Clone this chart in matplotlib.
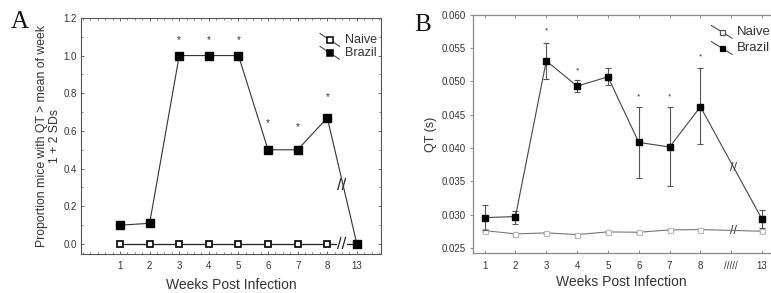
import numpy as np
import matplotlib
matplotlib.use("Agg")
import matplotlib.pyplot as plt
from matplotlib.ticker import AutoMinorLocator, MultipleLocator

plt.rcParams['font.family'] = ['Liberation Sans', 'DejaVu Sans']

# Panel A: proportion of mice with QT > mean of week 1 + 2 SDs
weeks = ['1', '2', '3', '4', '5', '6', '7', '8', '13']
prop_naive = [0, 0, 0, 0, 0, 0, 0, 0, 0]
prop_brazil = [0.10, 0.11, 1.0, 1.0, 1.0, 0.50, 0.50, 0.67, 0.0]
stars_a = {3: 1.08, 4: 1.08, 5: 1.08, 6: 0.64, 7: 0.62, 8: 0.78}

# Panel B: QT interval (s), mean with error bars
weeks_b = ['1', '2', '3', '4', '5', '6', '7', '8', '/////', '13']
qt_naive = [0.0276, 0.0271, 0.02725, 0.0270, 0.0274, 0.02735, 0.0277, 0.02775, 0.0275]
qt_naive_err = [0.0002, 0.0001, 0.0001, 0.0001, 0.0001, 0.0001, 0.0002, 0.0002, 0.0002]
qt_brazil = [0.02955, 0.0297, 0.0531, 0.0493, 0.0507, 0.04085, 0.04015, 0.0462, 0.0293]
qt_brazil_lo = [0.0277, 0.0286, 0.0503, 0.0484, 0.0494, 0.0355, 0.0343, 0.0406, 0.0280]
qt_brazil_hi = [0.03145, 0.0306, 0.0558, 0.0502, 0.0520, 0.0462, 0.0462, 0.0520, 0.0307]
stars_b = {3: 0.0576, 4: 0.0516, 6: 0.0477, 7: 0.0477, 8: 0.0537}

txt = '#333333'

fig = plt.figure(figsize=(7.71, 2.93), dpi=100)

# ---------------- Panel A ----------------
ax = fig.add_axes([0.105, 0.133, 0.389, 0.806])
xa = np.arange(1, len(weeks) + 1)
ax.plot(xa, prop_naive, '-s', color='#222222', lw=0.9, ms=4.4, mfc='white',
        mec='#111111', mew=1.3, zorder=3)
ax.plot(xa, prop_brazil, '-s', color='#333333', lw=0.8, ms=5.2, mfc='black',
        mec='black', zorder=4)
for w, y in stars_a.items():
    ax.text(weeks.index(str(w)) + 1, y, '*', ha='center', va='center',
            fontsize=7, color=txt)
# axis break marks
ax.text(8.5, 0.31, '//', ha='center', va='center', fontsize=12,
        color='#222222')
ax.text(8.5, 0.0, '//', ha='center', va='center', fontsize=12,
        color='#222222', bbox=dict(fc='white', ec='none', pad=0))

ax.set_xlim(-0.32, 9.81)
ax.set_ylim(-0.053, 1.2)
ax.set_xticks(xa)
ax.set_xticklabels(weeks)
ax.yaxis.set_major_locator(MultipleLocator(0.2))
ax.yaxis.set_major_formatter(plt.FuncFormatter(lambda v, p: f'{v:.1f}'))
ax.xaxis.set_minor_locator(AutoMinorLocator(4))
ax.yaxis.set_minor_locator(AutoMinorLocator(2))
ax.tick_params(which='both', direction='in', top=True, right=True,
               labelsize=7, labelcolor=txt, color='#555555')
ax.tick_params(which='major', length=2.5, width=0.6)
ax.tick_params(which='minor', length=1.5, width=0.5)
ax.tick_params(axis='x', pad=5)
ax.tick_params(axis='y', pad=3)
for s in ax.spines.values():
    s.set_color('#555555')
    s.set_linewidth(0.8)
ax.set_xlabel('Weeks Post Infection', fontsize=10, color=txt, labelpad=5)
ax.set_ylabel('Proportion mice with QT > mean of week\n1 + 2 SDs',
              fontsize=8.8, color=txt, labelpad=2, linespacing=1.1)

# legend, drawn by hand with slanted line handles
for yy, fc, lab in [(0.907, 'white', 'Naive'), (0.852, 'black', 'Brazil')]:
    ax.plot([0.797, 0.862], [yy + 0.027, yy - 0.027], color='#333333', lw=0.7,
            transform=ax.transAxes, clip_on=False)
    ax.plot([0.829], [yy], 's', ms=4.2, mfc=fc, mec='black', mew=1.1,
            transform=ax.transAxes)
    ax.text(0.88, yy, lab, transform=ax.transAxes, ha='left', va='center',
            fontsize=9, color=txt)

fig.text(0.014, 0.905, 'A', family=['Liberation Serif', 'DejaVu Serif'],
         fontsize=18, color='#111111')

# ---------------- Panel B ----------------
bx = fig.add_axes([0.613, 0.137, 0.387, 0.812])
xb = [1, 2, 3, 4, 5, 6, 7, 8, 10]
bx.errorbar(xb, qt_naive, yerr=qt_naive_err, fmt='-s', color='#777777',
            lw=0.8, ms=3.6, mfc='white', mec='#bbbbbb', mew=0.9,
            ecolor='#aaaaaa', elinewidth=0.6, capsize=2, zorder=3)
err = [np.array(qt_brazil) - np.array(qt_brazil_lo),
       np.array(qt_brazil_hi) - np.array(qt_brazil)]
bx.errorbar(xb, qt_brazil, yerr=err, fmt='-s', color='#444444', lw=0.8,
            ms=3.8, mfc='black', mec='black', ecolor='#555555',
            elinewidth=0.8, capsize=2.2, capthick=0.8, zorder=4)
for w, y in stars_b.items():
    bx.text(w, y, '*', ha='center', va='center', fontsize=6, color=txt)
bx.text(9.07, 0.0370, '//', ha='center', va='center', fontsize=9,
        color='#333333')
bx.text(9.07, 0.02755, '//', ha='center', va='center', fontsize=9,
        color='#333333')

bx.set_xlim(0.61, 10.29)
bx.set_ylim(0.02425, 0.060)
bx.set_xticks(range(1, len(weeks_b) + 1))
bx.set_xticklabels(weeks_b)
bx.yaxis.set_major_locator(MultipleLocator(0.005))
bx.yaxis.set_major_formatter(plt.FuncFormatter(lambda v, p: f'{v:.3f}'))
bx.tick_params(which='both', direction='in', top=True, labelsize=7,
               labelcolor=txt, color='#777777', length=2, width=0.6)
bx.tick_params(axis='x', pad=6)
bx.tick_params(axis='y', direction='out', pad=3)
bx.spines['right'].set_visible(False)
for s in ['left', 'top', 'bottom']:
    bx.spines[s].set_color('#888888')
    bx.spines[s].set_linewidth(0.9)
bx.set_xlabel('Weeks Post Infection', fontsize=10, color=txt, labelpad=3)
bx.set_ylabel('QT (s)', fontsize=9, color=txt, labelpad=3)

for yy, fc, ec, lab in [(0.929, 'white', '#555555', 'Naive'),
                        (0.861, 'black', 'black', 'Brazil')]:
    bx.plot([0.80, 0.87], [yy + 0.027, yy - 0.027], color='#333333', lw=0.7,
            transform=bx.transAxes, clip_on=False)
    bx.plot([0.836], [yy], 's', ms=3.6, mfc=fc, mec=ec, mew=0.9,
            transform=bx.transAxes)
    bx.text(0.885, yy, lab, transform=bx.transAxes, ha='left', va='center',
            fontsize=9.5, color=txt)

fig.text(0.537, 0.895, 'B', family=['Liberation Serif', 'DejaVu Serif'],
         fontsize=18, color='#111111')

fig.savefig('out.png', dpi=100)
